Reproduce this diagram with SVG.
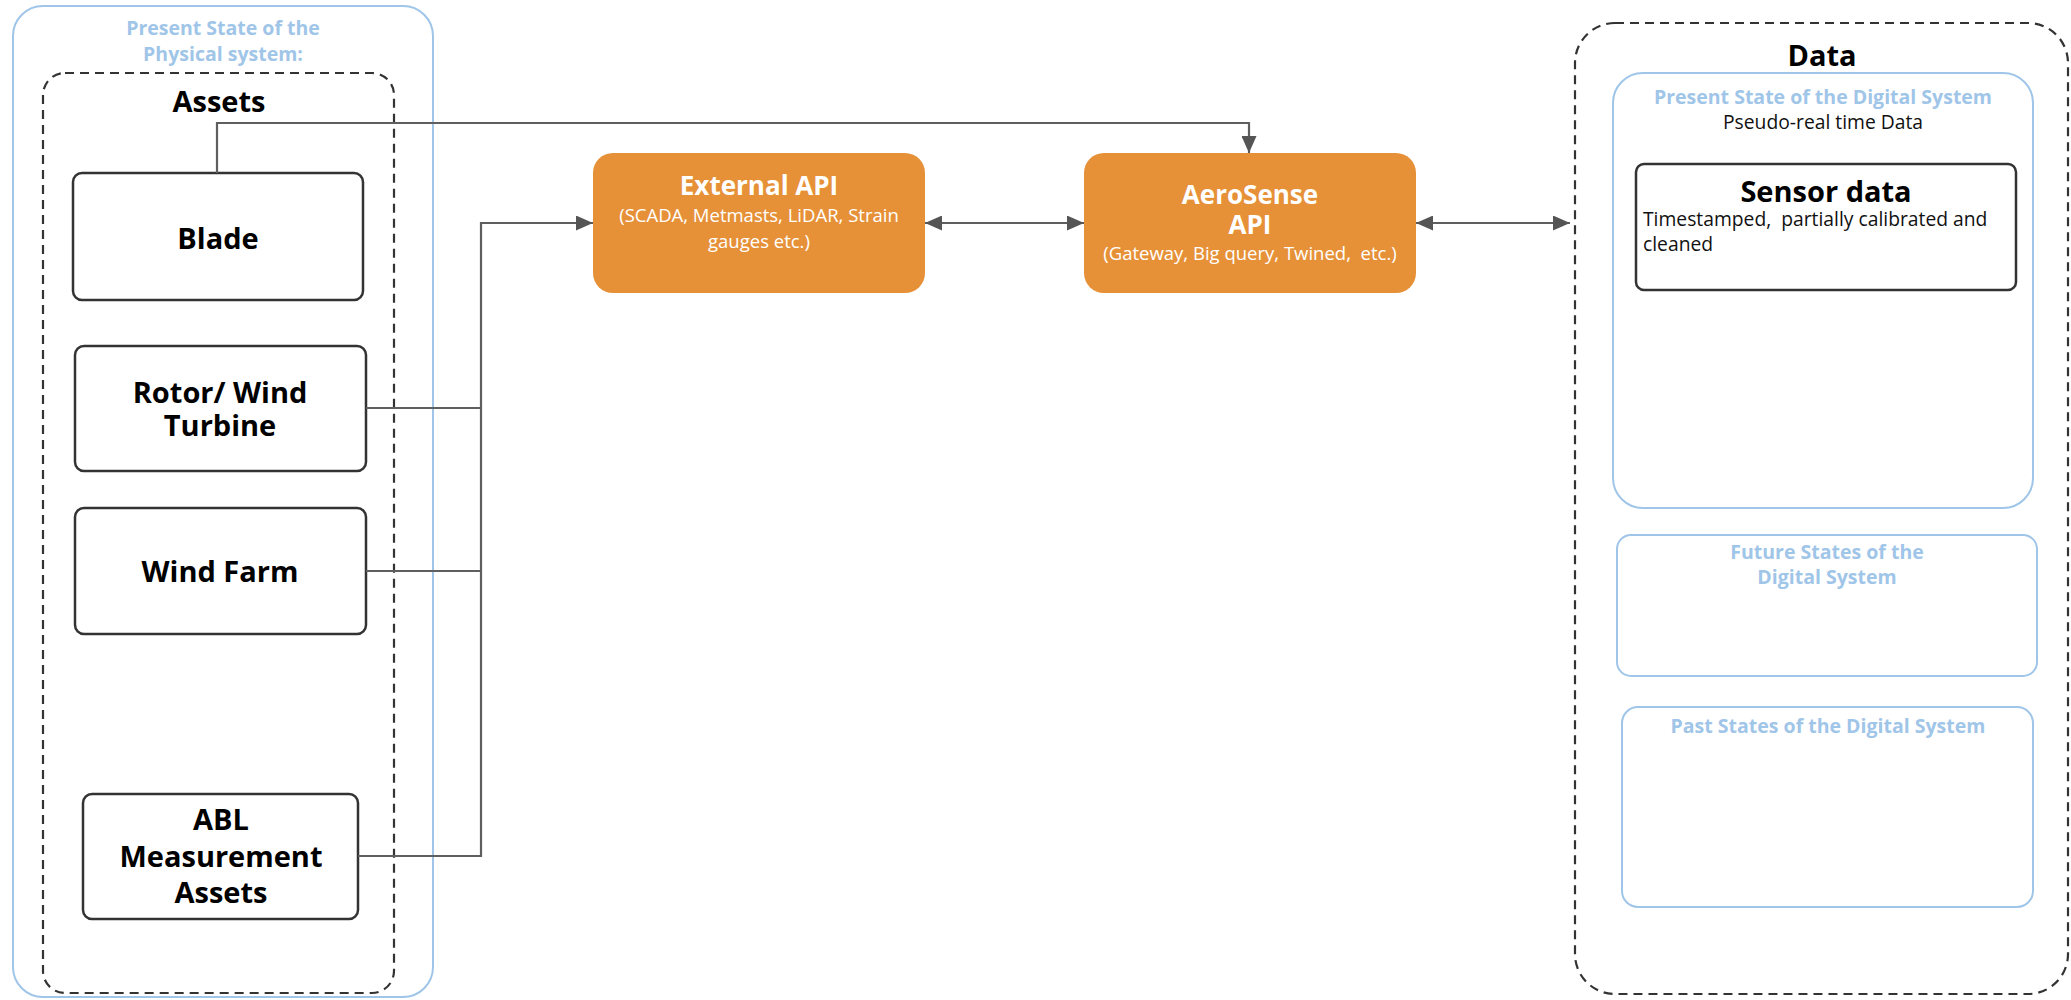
<svg xmlns="http://www.w3.org/2000/svg" width="2071" height="1000" viewBox="0 0 2071 1000">
  <style>
    text { font-family: "Open Sans", "Liberation Sans", sans-serif; }
    .state { fill: none; stroke: #9fc5e8; stroke-width: 2; }
    .state-title { fill: #9fc5e8; font-weight: bold; font-size: 19.5px; text-anchor: middle; }
    .group { fill: none; stroke: #333; stroke-width: 2.2; stroke-dasharray: 9 6; }
    .group-title { fill: #000; font-weight: bold; font-size: 29px; text-anchor: middle; }
    .asset { fill: #fff; stroke: #333; stroke-width: 2.5; }
    .asset-label { fill: #000; font-weight: bold; font-size: 29px; text-anchor: middle; }
    .api { fill: #e69138; stroke: none; }
    .api-title { fill: #fff; font-weight: bold; font-size: 26px; text-anchor: middle; }
    .api-sub { fill: #fff; font-size: 18.5px; text-anchor: middle; }
    .body { fill: #111; font-size: 19.3px; }
    .link { fill: none; stroke: #5f5f5f; stroke-width: 2.2; }
  </style>
  <defs>
    <marker id="arrow" viewBox="0 0 17 15" refX="17" refY="7.5" markerWidth="17" markerHeight="15" markerUnits="userSpaceOnUse" orient="auto-start-reverse">
      <path d="M0,0 L17,7.5 L0,15 Z" fill="#555"/>
    </marker>
  </defs>

  <!-- physical side -->
  <g id="physical-state">
    <rect class="state" x="13" y="6" width="420" height="991" rx="30"/>
    <text class="state-title" x="223" y="35">Present State of the</text>
    <text class="state-title" x="223" y="61">Physical system:</text>
  </g>

  <g id="assets">
    <rect class="group" x="43" y="73" width="351" height="920" rx="22"/>
    <text class="group-title" x="219" y="112">Assets</text>
  </g>

  <g id="blade">
    <rect class="asset" x="73" y="173" width="290" height="127" rx="9"/>
    <text class="asset-label" x="218" y="249">Blade</text>
  </g>

  <g id="rotor">
    <rect class="asset" x="75" y="346" width="291" height="125" rx="9"/>
    <text class="asset-label" x="220" y="403">Rotor/ Wind</text>
    <text class="asset-label" x="220" y="436">Turbine</text>
  </g>

  <g id="wind-farm">
    <rect class="asset" x="75" y="508" width="291" height="126" rx="9"/>
    <text class="asset-label" x="220" y="582">Wind Farm</text>
  </g>

  <g id="abl">
    <rect class="asset" x="83" y="794" width="275" height="125" rx="9"/>
    <text class="asset-label" x="221" y="830">ABL</text>
    <text class="asset-label" x="221" y="867">Measurement</text>
    <text class="asset-label" x="221" y="903">Assets</text>
  </g>

  <!-- APIs -->
  <g id="external-api">
    <rect class="api" x="593" y="153" width="332" height="140" rx="20"/>
    <text class="api-title" x="759" y="195">External API</text>
    <text class="api-sub" x="759" y="222">(SCADA, Metmasts, LiDAR, Strain</text>
    <text class="api-sub" x="759" y="248">gauges etc.)</text>
  </g>

  <g id="aerosense-api">
    <rect class="api" x="1084" y="153" width="332" height="140" rx="20"/>
    <text class="api-title" x="1250" y="204">AeroSense</text>
    <text class="api-title" x="1250" y="234">API</text>
    <text class="api-sub" x="1250" y="260" xml:space="preserve">(Gateway, Big query, Twined,  etc.)</text>
  </g>

  <!-- data side -->
  <g id="data">
    <rect class="group" x="1575" y="23" width="493" height="971" rx="40"/>
    <text class="group-title" x="1822" y="66">Data</text>
  </g>

  <g id="present-digital">
    <rect class="state" x="1613" y="73" width="420" height="435" rx="30"/>
    <text class="state-title" x="1823" y="104">Present State of the Digital System</text>
    <text class="body" x="1823" y="129" text-anchor="middle">Pseudo-real time Data</text>
  </g>

  <g id="sensor-data">
    <rect class="asset" x="1636" y="164" width="380" height="126" rx="8"/>
    <text class="group-title" x="1826" y="202">Sensor data</text>
    <text class="body" x="1643" y="226" xml:space="preserve">Timestamped,  partially calibrated and</text>
    <text class="body" x="1643" y="251">cleaned</text>
  </g>

  <g id="future-digital">
    <rect class="state" x="1617" y="535" width="420" height="141" rx="14"/>
    <text class="state-title" x="1827" y="559">Future States of the</text>
    <text class="state-title" x="1827" y="584">Digital System</text>
  </g>

  <g id="past-digital">
    <rect class="state" x="1622" y="707" width="411" height="200" rx="16"/>
    <text class="state-title" x="1828" y="733">Past States of the Digital System</text>
  </g>

  <!-- connectors -->
  <g id="connectors">
    <path class="link" d="M217,173 V123 H1249 V153" marker-end="url(#arrow)"/>
    <path class="link" d="M366,408 H481"/>
    <path class="link" d="M366,571 H481"/>
    <path class="link" d="M358,856 H481 V223 H593" marker-end="url(#arrow)"/>
    <path class="link" d="M925,223 H1084" marker-start="url(#arrow)" marker-end="url(#arrow)"/>
    <path class="link" d="M1416,223 H1570" marker-start="url(#arrow)" marker-end="url(#arrow)"/>
  </g>
</svg>
